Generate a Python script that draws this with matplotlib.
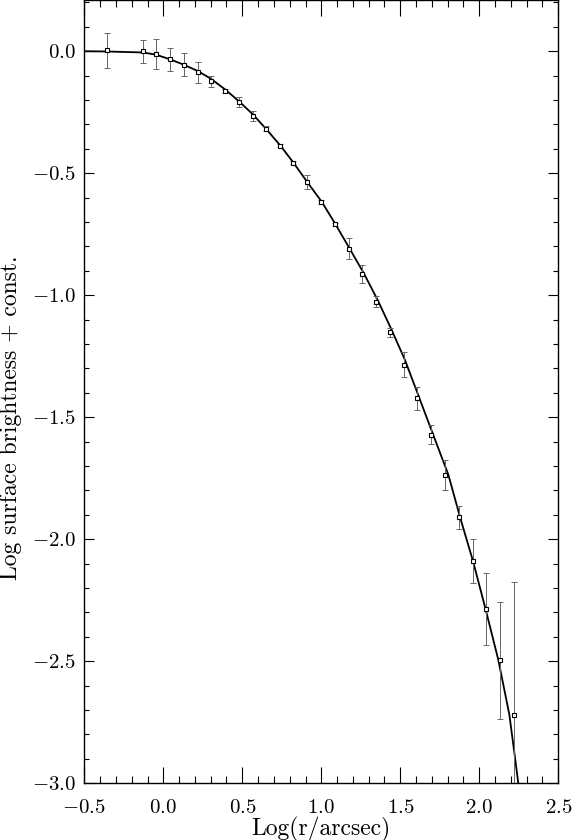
import matplotlib
matplotlib.use('Agg')
import matplotlib.pyplot as plt
from matplotlib.ticker import MultipleLocator, FuncFormatter

# measured profile points (log r, log SB) with error bars
logr = [-0.358, -0.130, -0.046, 0.042, 0.129, 0.218, 0.302, 0.392, 0.477, 0.566,
        0.650, 0.739, 0.823, 0.911, 0.998, 1.087, 1.173, 1.260, 1.346, 1.435,
        1.521, 1.608, 1.694, 1.783, 1.871, 1.958, 2.044, 2.129, 2.218]
logsb = [0.004, 0.000, -0.011, -0.033, -0.056, -0.087, -0.123, -0.163, -0.208, -0.264,
         -0.318, -0.387, -0.456, -0.536, -0.618, -0.710, -0.810, -0.914, -1.027, -1.152,
         -1.284, -1.423, -1.571, -1.735, -1.909, -2.089, -2.286, -2.495, -2.720]
err = [0.072, 0.048, 0.060, 0.048, 0.047, 0.044, 0.023, 0.008, 0.022, 0.020,
       0.010, 0.006, 0.006, 0.028, 0.010, 0.006, 0.043, 0.036, 0.023, 0.017,
       0.053, 0.048, 0.039, 0.061, 0.047, 0.092, 0.146, 0.240, 0.545]

# fitted model curve
fit_x = [-0.5, -0.358, -0.130, -0.046, 0.042, 0.129, 0.218, 0.302, 0.392, 0.477,
         0.566, 0.650, 0.739, 0.823, 0.911, 1.004, 1.087, 1.177, 1.270, 1.357,
         1.446, 1.530, 1.614, 1.699, 1.804, 1.878, 1.960, 2.040, 2.120, 2.190,
         2.220, 2.247]
fit_y = [0.000, -0.001, -0.005, -0.014, -0.033, -0.055, -0.081, -0.113, -0.157, -0.204,
         -0.258, -0.318, -0.385, -0.456, -0.536, -0.618, -0.706, -0.806, -0.911, -1.020,
         -1.143, -1.266, -1.410, -1.556, -1.735, -1.909, -2.089, -2.287, -2.493, -2.718,
         -2.865, -3.001]

plt.rcParams['font.family'] = 'cmr10'
plt.rcParams['mathtext.fontset'] = 'cm'
plt.rcParams['axes.formatter.use_mathtext'] = True

fig = plt.figure(figsize=(5.73, 8.4), dpi=100)
ax = fig.add_axes([84.3/573, 1-783.3/840, 474/573, 783.3/840])

ax.plot(fit_x, fit_y, color='black', lw=1.3, zorder=2)
ax.errorbar(logr, logsb, yerr=err, fmt='none', ecolor='0.4', elinewidth=0.7,
            capsize=2.2, capthick=0.7, zorder=3)
ax.plot(logr, logsb, 's', ms=3.4, mfc='white', mec='black', mew=0.8, zorder=4)

ax.set_xlim(-0.5, 2.5)
ax.set_ylim(-3.0, 0.21)
ax.xaxis.set_major_locator(MultipleLocator(0.5))
ax.xaxis.set_minor_locator(MultipleLocator(0.1))
ax.yaxis.set_major_locator(MultipleLocator(0.5))
ax.yaxis.set_minor_locator(MultipleLocator(0.1))
fmt = FuncFormatter(lambda v, pos: '$%.1f$' % v)
ax.xaxis.set_major_formatter(fmt)
ax.yaxis.set_major_formatter(fmt)

ax.tick_params(axis='both', which='both', direction='in', top=True, right=True,
               labelsize=15, width=0.8, color='black')
ax.tick_params(axis='x', which='major', length=11.5, pad=11)
ax.tick_params(axis='x', which='minor', length=5)
ax.tick_params(axis='y', which='major', length=7.2, pad=6)
ax.tick_params(axis='y', which='minor', length=3.8)
for s in ax.spines.values():
    s.set_linewidth(1.0)

fig.text(321/573, 1-829/840, 'Log(r/arcsec)', ha='center', va='center', fontsize=17)
fig.text(11/573, 1-418/840, 'Log surface brightness + const.', ha='center', va='center',
         rotation=90, fontsize=17)

plt.savefig('out.png', dpi=100)
